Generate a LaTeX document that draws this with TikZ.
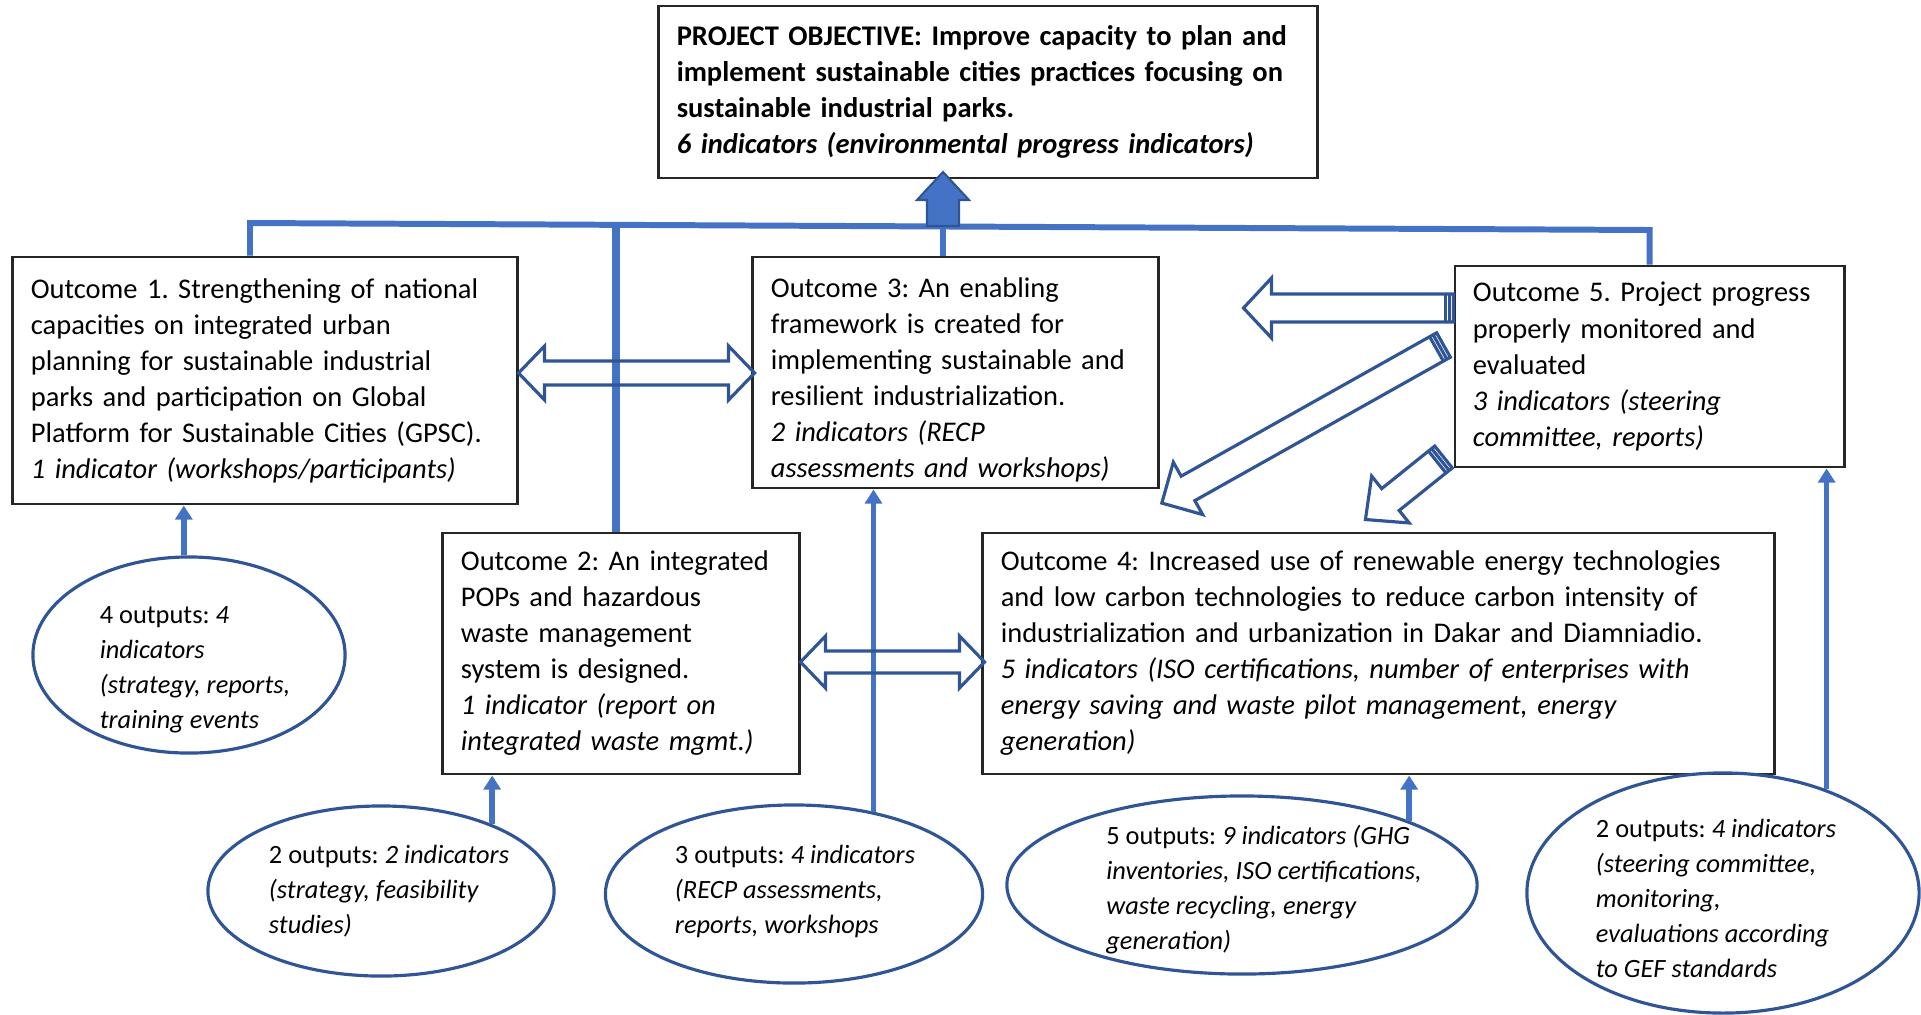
\documentclass[tikz,border=0pt]{standalone}
\usepackage{fontspec}
\setmainfont{Carlito}
\usepackage{xcolor}
\usepackage{tikz}
\usetikzlibrary{shapes.geometric, arrows.meta, calc}

\definecolor{lineblue}{HTML}{4472C4}
\definecolor{darkblue}{HTML}{2F5597}

\begin{document}
\begin{tikzpicture}[
    x=0.01cm, y=-0.01cm,
    box/.style={draw=black!85, line width=0.8pt, fill=white, align=left, inner xsep=0.18cm, inner ysep=0pt, font=\fontsize{8.1}{10.24}\selectfont,
        execute at begin node={\frenchspacing\hyphenpenalty=10000\rightskip=0pt plus 1fil minus 2cm}},
    bubble/.style={ellipse, draw=darkblue, line width=0.9pt, inner sep=0pt},
    bubbletxt/.style={align=left, inner sep=0pt, font=\fontsize{7.5}{9.96}\selectfont, execute at begin node={\frenchspacing}},
    bus/.style={draw=lineblue, line width=1.7pt},
    feed/.style={draw=lineblue, line width=1.6pt, -{Triangle[length=4pt,width=4.8pt]}},
    hollow/.style={draw=darkblue, line width=0.9pt, line join=miter},
    pics/onearrow/.style args={#1/#2/#3/#4}{code={
        \draw[hollow] (0,#2) -- (#1-#4,#2) -- (#1-#4,#3) -- (#1,0) -- (#1-#4,-#3) -- (#1-#4,-#2) -- (0,-#2) -- cycle;
        \draw[hollow] (4,-#2) -- (4,#2);
        \draw[hollow] (8,-#2) -- (8,#2);
    }},
    pics/twoarrow/.style args={#1/#2/#3/#4}{code={
        \draw[hollow] (0,0) -- (#4,#3) -- (#4,#2) -- (#1-#4,#2) -- (#1-#4,#3) -- (#1,0) -- (#1-#4,-#3) -- (#1-#4,-#2) -- (#4,-#2) -- (#4,-#3) -- cycle;
    }},
    pics/fatarrow/.style args={#1/#2/#3/#4}{code={
        \draw[fill=lineblue, draw=darkblue, line width=0.6pt] (0,#2) -- (#1-#4,#2) -- (#1-#4,#3) -- (#1,0) -- (#1-#4,-#3) -- (#1-#4,-#2) -- (0,-#2) -- cycle;
    }},
]
\useasboundingbox (0,0) rectangle (1921,1014);

% ── Objective ──
\node[box, font=\fontsize{8.1}{10.24}\selectfont\bfseries, text width=6.22cm, minimum height=1.72cm] (goal) at (988,92)
    {PROJECT OBJECTIVE: Improve capacity to plan and\\
     implement sustainable cities practices focusing on\\
     sustainable industrial parks.\\
     \textit{6 indicators (environmental progress indicators)}};

% ── Outcomes ──
\node[box, text width=4.68cm, minimum height=2.47cm] (o1) at (265,380.5)
    {Outcome 1. Strengthening of national\\
     capacities on integrated urban\\
     planning for sustainable industrial\\
     parks and participation on Global\\
     Platform for Sustainable Cities (GPSC).\\
     \textit{1 indicator (workshops/participants)}};
\node[box, text width=3.69cm, minimum height=2.31cm] (o3) at (955.5,372.5)
    {\rule{0pt}{10pt}Outcome 3: An enabling\\
     framework is created for\\
     implementing sustainable and\\
     resilient industrialization.\\
     \textit{2 indicators (RECP}\\
     \textit{assessments and workshops)}};
\node[box, text width=3.53cm, minimum height=2.01cm] (o5) at (1649.5,366.5)
    {Outcome 5. Project progress\\
     properly monitored and\\
     evaluated\\
     \textit{3 indicators (steering}\\
     \textit{committee, reports)}};
\node[box, text width=3.20cm, minimum height=2.41cm] (o2) at (621,653.5)
    {Outcome 2: An integrated\\
     POPs and hazardous\\
     waste management\\
     system is designed.\\
     \textit{1 indicator (report on}\\
     \textit{integrated waste mgmt.)}};
\node[box, text width=7.55cm, minimum height=2.41cm] (o4) at (1378.5,653.5)
    {Outcome 4: Increased use of renewable energy technologies\\
     and low carbon technologies to reduce carbon intensity of\\
     industrialization and urbanization in Dakar and Diamniadio.\\
     \textit{5 indicators (ISO certifications, number of enterprises with}\\
     \textit{energy saving and waste pilot management, energy}\\
     \textit{generation)}};

% ── Outputs ──
\node[bubble, minimum width=3.12cm, minimum height=1.96cm] (e1) at (189,655) {};
\node[bubble, minimum width=3.46cm, minimum height=1.70cm] (e2) at (381,891) {};
\node[bubble, minimum width=3.77cm, minimum height=1.78cm] (e3) at (794,894) {};
\node[bubble, minimum width=4.70cm, minimum height=1.78cm] (e4) at (1242,885) {};
\node[bubble, minimum width=3.92cm, minimum height=2.40cm] (e5) at (1723,893) {};

\node[bubbletxt] (e1t) at (195,670)
    {4 outputs: \textit{4}\\ \textit{indicators}\\ \textit{(strategy, reports,}\\ \textit{training events}};
\node[bubbletxt] (e2t) at (389,891)
    {2 outputs: \textit{2 indicators}\\ \textit{(strategy, feasibility}\\ \textit{studies)}};
\node[bubbletxt] (e3t) at (795,891)
    {3 outputs: \textit{4 indicators}\\ \textit{(RECP assessments,}\\ \textit{reports, workshops}};
\node[bubbletxt] (e4t) at (1264,890)
    {5 outputs: \textit{9 indicators (GHG}\\ \textit{inventories, ISO certifications,}\\ \textit{waste recycling, energy}\\ \textit{generation)}};
\node[bubbletxt] (e5t) at (1716,898)
    {2 outputs: \textit{4 indicators}\\ \textit{(steering committee,}\\ \textit{monitoring,}\\ \textit{evaluations according}\\ \textit{to GEF standards}};

% ── Bus to the objective ──
\coordinate (busL) at (250,223);
\coordinate (busR) at (o5.north |- 0,230);
\coordinate (hub) at (943,226);
\coordinate (drop2) at (616,225);
\draw[bus] (o1.north -| busL) -- (busL) -- (busR) -- (o5.north);
\draw[bus] (hub) -- (o3.north -| hub);
\draw[bus, line width=2.3pt] (drop2) -- (o2.north -| drop2);
\pic[rotate=90] at (hub) {fatarrow=54/16/26/28};

% ── Outputs feeding outcomes ──
\draw[feed] (e1.93) -- (e1.93 |- o1.south);
\draw[feed] (e2.31) -- (e2.31 |- o2.south);
\draw[feed] (e3.46) -- (e3.46 |- o3.south);
\draw[feed] (e4.21) -- (e4.21 |- o4.south);
\draw[feed] (e5.45) -- (e5.45 |- o5.south);

% ── Links between outcomes ──
\pic at (o1.east |- 0,373) {twoarrow=236/12/27/26};
\pic at (o2.east |- 0,662) {twoarrow=184/11/26/25};
\pic[rotate=180] at (o5.west |- 0,308) {onearrow=210/14/30/28};
\pic[rotate=209.3] at ($(o5.west |- 0,345)+(-10,0)$) {onearrow=323/14/30/30};
\pic[rotate=218.7] at ($(o5.west |- 0,457)+(-10,0)$) {onearrow=100/14/30/32};

\end{tikzpicture}
\end{document}
